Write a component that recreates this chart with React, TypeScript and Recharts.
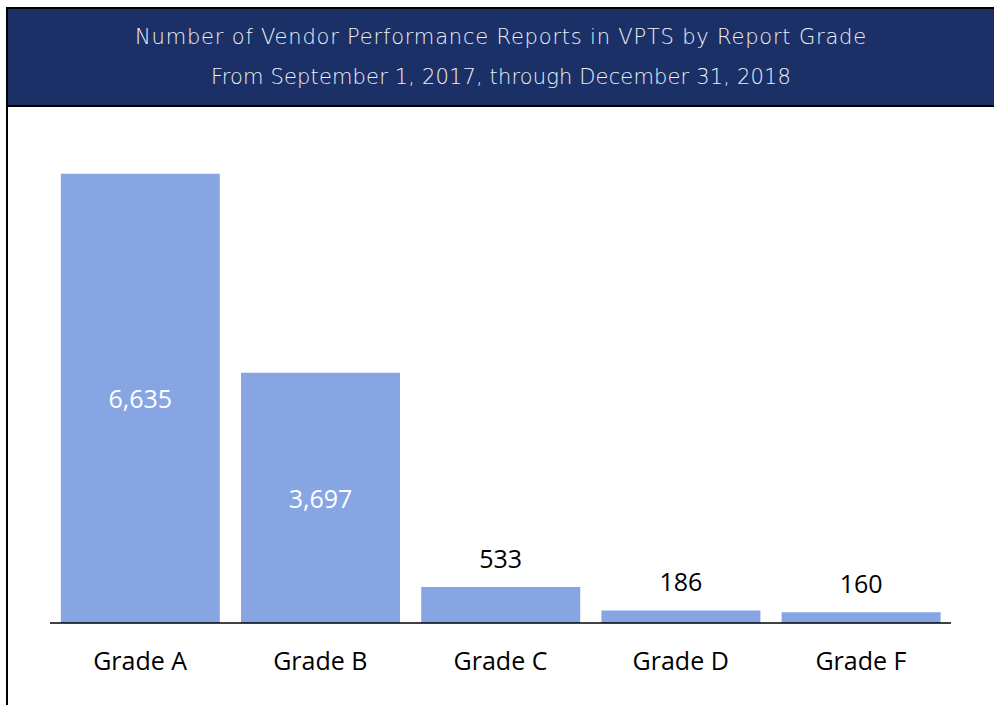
import React from "react";
import { BarChart, Bar, XAxis, YAxis, LabelList } from "recharts";

const grades = ["Grade A", "Grade B", "Grade C", "Grade D", "Grade F"];
const reportCounts = [6635, 3697, 533, 186, 160];
const titleLines = [
  "Number of Vendor Performance Reports in VPTS by Report Grade",
  "From September 1, 2017, through December 31, 2018",
];

const data = grades.map((grade, i) => ({ grade, count: reportCounts[i] }));

const FONT = "'Open Sans', 'Noto Sans', sans-serif";

const GradeTick = (props: any) => {
  const { x, y, payload } = props;
  return (
    <text
      x={x}
      y={y + 37}
      textAnchor="middle"
      dominantBaseline="central"
      fontFamily={FONT}
      fontSize={25}
      fill="#000"
    >
      {payload.value}
    </text>
  );
};

const ValueLabel = (props: any) => {
  const { x, y, width, height, value } = props;
  const inside = value > 1000;
  return (
    <text
      x={x + width / 2}
      y={inside ? y + height / 2 : y - 29}
      textAnchor="middle"
      dominantBaseline="central"
      fontFamily={FONT}
      fontSize={25}
      fill={inside ? "#ffffff" : "#000000"}
    >
      {value.toLocaleString("en-US")}
    </text>
  );
};

export default function App() {
  return (
    <div
      style={{
        position: "fixed",
        left: 0,
        top: 0,
        width: 994,
        height: 705,
        background: "#fff",
        overflow: "hidden",
      }}
    >
      {/* frame + header */}
      <div
        style={{
          position: "absolute",
          left: 6,
          top: 7,
          width: 1000,
          height: 710,
          borderLeft: "2px solid #000",
          borderTop: "2px solid #000",
          boxSizing: "border-box",
        }}
      />
      <div
        style={{
          position: "absolute",
          left: 8,
          top: 9,
          width: 986,
          height: 96,
          background: "#1b3066",
          borderBottom: "2px solid #000",
        }}
      >
        {titleLines.map((line, i) => (
          <div
            key={i}
            style={{
              position: "absolute",
              left: 0,
              width: 986,
              top: i === 0 ? 14 : 54,
              textAlign: "center",
              fontFamily: "'DejaVu Sans', sans-serif",
              fontWeight: 200,
              fontSize: 21,
              letterSpacing: i === 0 ? 0.8 : 0.15,
              lineHeight: "28px",
              color: "#eef0f5",
              whiteSpace: "nowrap",
            }}
          >
            {line}
          </div>
        ))}
      </div>
      <div style={{ position: "absolute", left: 0, top: 0 }}>
        <BarChart
          width={994}
          height={705}
          data={data}
          margin={{ top: 130, right: 43, bottom: 0, left: 50 }}
          barCategoryGap="6%"
        >
          <YAxis hide domain={[0, 7280]} />
          <XAxis
            dataKey="grade"
            height={82}
            tickLine={false}
            tickSize={0}
            tickMargin={0}
            axisLine={{ stroke: "#000", strokeWidth: 1.5 }}
            tick={<GradeTick />}
            interval={0}
          />
          <Bar dataKey="count" fill="#87a4e3" isAnimationActive={false}>
            <LabelList dataKey="count" content={<ValueLabel />} />
          </Bar>
        </BarChart>
      </div>
    </div>
  );
}
